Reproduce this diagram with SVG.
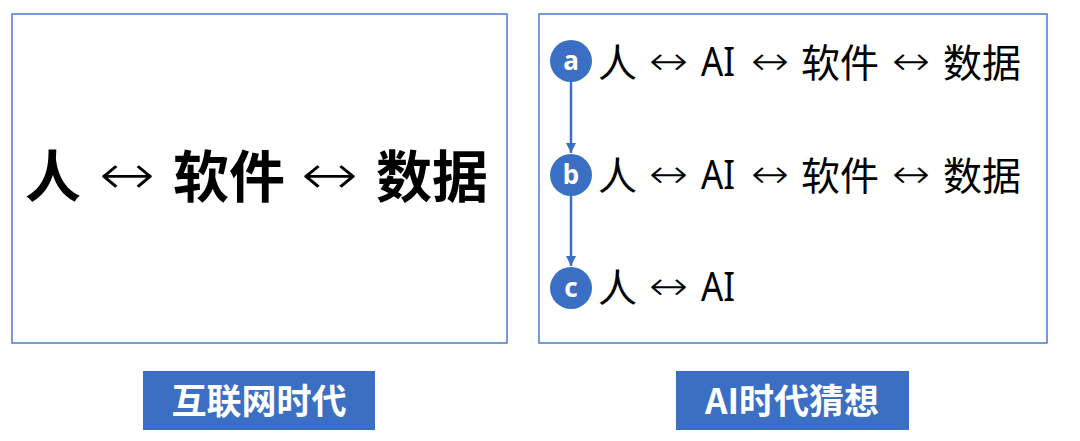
<svg xmlns="http://www.w3.org/2000/svg" width="1080" height="441" viewBox="0 0 1080 441">
<style>
.panel{fill:#ffffff;stroke:#4a7cc8;stroke-width:1.5}
.big{font-family:"Noto Sans CJK SC","Noto Sans",sans-serif;font-weight:700;font-size:56px;fill:#000}
.row{font-family:"Noto Sans CJK SC","Noto Sans",sans-serif;font-size:39px;fill:#000}
.ai{font-family:"Noto Sans","Noto Sans CJK SC",sans-serif;font-size:40px;fill:#000}
.arw{font-family:"DejaVu Sans",sans-serif;font-weight:200;fill:#000}
.badge{fill:#3b6fc3}
.bl{font-family:"Noto Sans",sans-serif;font-size:26px;font-weight:700;fill:#fff;text-anchor:middle}
.tag{fill:#3b6fc3}
.tl{font-family:"Noto Sans CJK SC",sans-serif;font-size:35px;font-weight:700;fill:#fff;text-anchor:middle}
.conn{stroke:#3b6fc3;stroke-width:2.5;fill:none}
</style>
<defs>
<marker id="ah" viewBox="0 0 10 10" refX="10" refY="5" markerWidth="4" markerHeight="4" orient="auto" markerUnits="strokeWidth">
<path d="M0,0 L10,5 L0,10 Z" fill="#3b6fc3"/>
</marker>
</defs>
<rect width="1080" height="441" fill="#ffffff"/>
<g id="internet-panel">
<rect class="panel" x="12" y="14" width="495" height="329"/>
<text class="big" x="25" y="197">人</text>
<text class="arw" x="99" y="194" font-size="56" textLength="56" lengthAdjust="spacingAndGlyphs">↔</text>
<text class="big" x="173" y="197">软件</text>
<text class="arw" x="301" y="194" font-size="56" textLength="57" lengthAdjust="spacingAndGlyphs">↔</text>
<text class="big" x="376" y="197">数据</text>
</g>
<g id="ai-panel">
<rect class="panel" x="539" y="14" width="508" height="329"/>
</g>
<g id="connectors">
<line class="conn" x1="571" y1="82" x2="571" y2="153" marker-end="url(#ah)"/>
<line class="conn" x1="571" y1="196" x2="571" y2="266" marker-end="url(#ah)"/>
</g>
<g id="row-a">
<circle class="badge" cx="571" cy="61" r="21"/>
<text class="bl" x="571" y="70">a</text>
<text class="row" x="598" y="77">人</text>
<text class="arw" x="649" y="75" font-size="40" textLength="39" lengthAdjust="spacingAndGlyphs">↔</text>
<text class="ai" x="701" y="76" textLength="34" lengthAdjust="spacingAndGlyphs">AI</text>
<text class="arw" x="751" y="75" font-size="40" textLength="38" lengthAdjust="spacingAndGlyphs">↔</text>
<text class="row" x="801" y="77">软件</text>
<text class="arw" x="892" y="75" font-size="40" textLength="38" lengthAdjust="spacingAndGlyphs">↔</text>
<text class="row" x="943" y="77">数据</text>
</g>
<g id="row-b">
<circle class="badge" cx="571" cy="175" r="21"/>
<text class="bl" x="571" y="184">b</text>
<text class="row" x="598" y="190">人</text>
<text class="arw" x="649" y="188" font-size="40" textLength="39" lengthAdjust="spacingAndGlyphs">↔</text>
<text class="ai" x="701" y="189" textLength="34" lengthAdjust="spacingAndGlyphs">AI</text>
<text class="arw" x="751" y="188" font-size="40" textLength="38" lengthAdjust="spacingAndGlyphs">↔</text>
<text class="row" x="801" y="190">软件</text>
<text class="arw" x="892" y="188" font-size="40" textLength="38" lengthAdjust="spacingAndGlyphs">↔</text>
<text class="row" x="943" y="190">数据</text>
</g>
<g id="row-c">
<circle class="badge" cx="571" cy="288" r="21"/>
<text class="bl" x="571" y="297">c</text>
<text class="row" x="598" y="302">人</text>
<text class="arw" x="649" y="300" font-size="40" textLength="39" lengthAdjust="spacingAndGlyphs">↔</text>
<text class="ai" x="701" y="301" textLength="34" lengthAdjust="spacingAndGlyphs">AI</text>
</g>
<g id="tag-internet">
<rect class="tag" x="143" y="371" width="232" height="59"/>
<text class="tl" x="259" y="414">互联网时代</text>
</g>
<g id="tag-ai">
<rect class="tag" x="676" y="371" width="233" height="59"/>
<text class="tl" x="792" y="414">AI时代猜想</text>
</g>
</svg>
